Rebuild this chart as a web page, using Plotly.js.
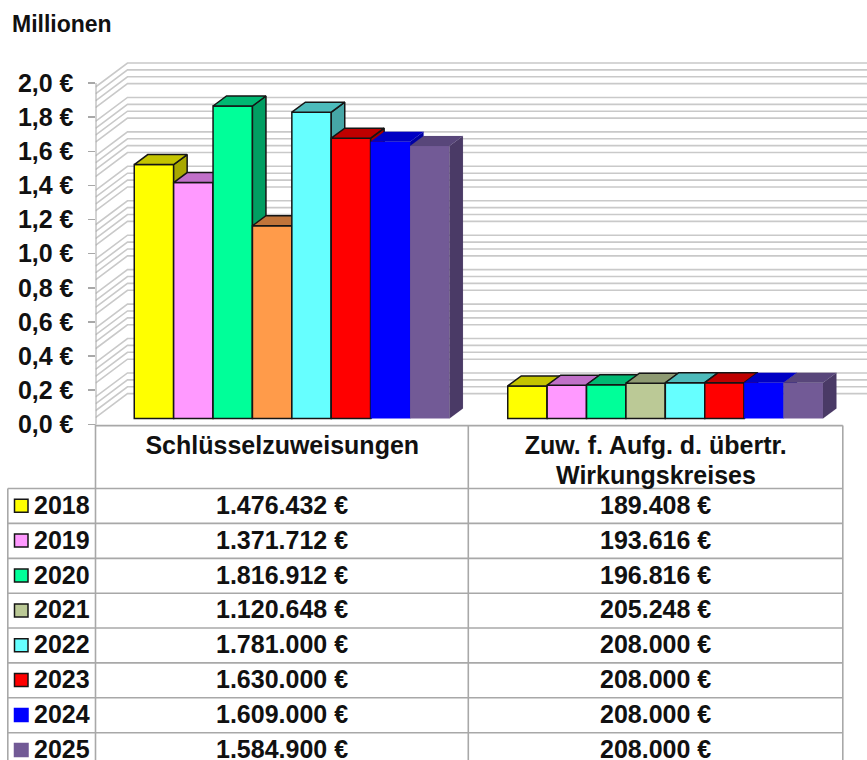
<!DOCTYPE html>
<html><head><meta charset="utf-8">
<script src="https://cdn.plot.ly/plotly-3.0.1.min.js"></script>
<style>html,body{margin:0;padding:0;background:#fff}</style></head>
<body><div id="chart" style="width:867px;height:760px"></div>
<script>
const categories = ['Schlüsselzuweisungen', 'Zuw. f. Aufg. d. übertr.'];
const categorySecondLine = ['', 'Wirkungskreises'];
const years = ['2018','2019','2020','2021','2022','2023','2024','2025'];
const schluessel = [1476432,1371712,1816912,1120648,1781000,1630000,1609000,1584900];
const zuweisung = [189408,193616,196816,205248,208000,208000,208000,208000];
const frontCol1 = ['#FFFF00','#FF99FF','#00FF99','#FF9B4A','#66FFFF','#FF0000','#0000FF','#725A96'];
const frontCol2 = ['#FFFF00','#FF99FF','#00FF99','#BBC996','#66FFFF','#FF0000','#0000FF','#725A96'];
const topCol1   = ['#C4C400','#C070C8','#00B872','#C0743A','#4DBBBB','#BF0000','#0000C4','#58467A'];
const topCol2   = ['#C4C400','#C070C8','#00B872','#8E9A72','#4DBBBB','#BF0000','#0000C4','#58467A'];
const sideCol1  = ['#A8A800','#A060A8','#009E62','#A86030','#46A6A6','#A00000','#0000A4','#4A3A66'];
const sideCol2  = ['#A8A800','#A060A8','#009E62','#7E8A64','#46A6A6','#A00000','#0000A4','#4A3A66'];
const hasOutline = [true,true,true,true,true,true,false,false];
const yTicks = [0,0.2,0.4,0.6,0.8,1.0,1.2,1.4,1.6,1.8,2.0];
const yTickText = ['0,0 €','0,2 €','0,4 €','0,6 €','0,8 €','1,0 €','1,2 €','1,4 €','1,6 €','1,8 €','2,0 €'];
const wallLines = [2,1.96,1.92,1.88, 1.8,1.76,1.72,1.68, 1.6,1.56,1.52,1.48, 1.4,1.36,1.32,1.28,
  1.2,1.16,1.12,1.08, 1,0.96,0.92,0.88, 0.8,0.76,0.72,0.68, 0.6,0.56,0.52,0.48, 0.4,0.36,0.32,0.28, 0.2,0.16,0.12,0.08];

const W = 867, H = 760;
const px = x => x / W, py = y => 1 - y / H;
const axL = 95.5, plotTop = 60, zeroY = 424.3;
const unitX = 373.5;                       // px per category
const xMin = -0.5, xMax = xMin + (W - axL) / unitX;
const yScale = (zeroY - 83) / 2;           // tick axis px per million
const barScale = 172, barBase = 418.5;     // front plane of the bars
const slot = 39.4 / unitX, shift = 9.6 / unitX;
const depthX = 13.5 / unitX, depthY = 10 / barScale;
const FONT = 'Liberation Sans, Arial, sans-serif';
const INK = '#111111', GRID = '#C9C9C9', RULE = '#A8A8A8';
const TXT = 25;

const traces = [];
// perspective back wall
const wallX = [], wallY = [];
const toMain = (backPx) => (zeroY - backPx) / yScale;
wallLines.forEach(v => {
  const back = 63 + (2 - v) * 172.2;
  wallX.push(xMin, xMin + 32 / unitX, xMax, null);
  wallY.push(toMain(back + 24), toMain(back), toMain(back), null);
});
traces.push({type:'scatter', mode:'lines', x:wallX, y:wallY, xaxis:'x', yaxis:'y',
  line:{color:GRID, width:1.6}, hoverinfo:'skip', showlegend:false, cliponaxis:true});
// axis stem, only as high as the top tick
traces.push({type:'scatter', mode:'lines', x:[xMin,xMin], y:[0,2], xaxis:'x', yaxis:'y',
  line:{color:RULE, width:2}, hoverinfo:'skip', showlegend:false, cliponaxis:false});

const layout = {
  width:W, height:H, margin:{l:0,r:0,t:0,b:0}, paper_bgcolor:'#fff', plot_bgcolor:'rgba(0,0,0,0)',
  showlegend:false, barmode:'overlay',
  font:{family:FONT, color:INK},
  title:{text:'Millionen', x:px(12), xanchor:'left', xref:'paper', y:py(24), yanchor:'middle',
    font:{family:FONT, size:23, weight:700, color:INK}},
  xaxis:{domain:[px(axL),1], range:[xMin,xMax], tickmode:'array', tickvals:[0,1], ticktext:categories,
    tickfont:{family:FONT, size:TXT, weight:700, color:INK}, ticks:'', showgrid:false, zeroline:false,
    showline:false, anchor:'y', ticklabelstandoff:4, fixedrange:true},
  yaxis:{domain:[py(zeroY),py(plotTop)], range:[0,(zeroY-plotTop)/yScale], tickmode:'array', tickvals:yTicks,
    ticktext:yTickText, tickfont:{family:FONT, size:TXT, weight:700, color:INK},
    ticks:'outside', ticklen:7, tickwidth:1.5, tickcolor:RULE, showgrid:false, zeroline:false, showline:false,
    anchor:'x', ticklabelstandoff:9, fixedrange:true},
  shapes:[], annotations:[]
};

years.forEach((yr, i) => {
  const ax = 'y' + (i + 2), axKey = 'yaxis' + (i + 2);
  layout[axKey] = {overlaying:'y', domain:layout.yaxis.domain, visible:false, fixedrange:true,
    range:[(barBase-zeroY)/barScale,(barBase-plotTop)/barScale]};
  const offs = (i - 3.5) * slot + shift;
  const vals = [schluessel[i]/1e6, zuweisung[i]/1e6];
  const lw = hasOutline[i] ? 1.5 : 0;
  const edge = '#151515';
  traces.push({type:'bar', name:yr, x:[0+offs,1+offs], y:vals, width:slot, xaxis:'x', yaxis:ax,
    marker:{color:[frontCol1[i],frontCol2[i]], line:{color:edge,width:lw}}, showlegend:false});
  [0,1].forEach(g => {
    const xl = g + offs - slot/2, xr = g + offs + slot/2, v = vals[g];
    traces.push({type:'scatter', mode:'lines', xaxis:'x', yaxis:ax, fill:'toself',
      x:[xr,xr+depthX,xr+depthX,xr,xr], y:[0,depthY,v+depthY,v,0],
      fillcolor:(g?sideCol2:sideCol1)[i], line:{color:hasOutline[i]?edge:(g?sideCol2:sideCol1)[i],width:lw||0.1},
      hoverinfo:'skip', showlegend:false});
    traces.push({type:'scatter', mode:'lines', xaxis:'x', yaxis:ax, fill:'toself',
      x:[xl,xl+depthX,xr+depthX,xr,xl], y:[v,v+depthY,v+depthY,v,v],
      fillcolor:(g?topCol2:topCol1)[i], line:{color:hasOutline[i]?edge:(g?topCol2:topCol1)[i],width:lw||0.1},
      hoverinfo:'skip', showlegend:false});
  });
});

// table rules
const rule = (x0,y0,x1,y1) => layout.shapes.push({type:'line', xref:'paper', yref:'paper', layer:'above',
  x0:px(x0), y0:py(y0), x1:px(x1), y1:py(y1), line:{color:RULE, width:1.6}});
rule(axL,425.6,842.8,425.6);
rule(axL,424.3,axL,760); rule(468.3,425.6,468.3,760); rule(842.8,425.6,842.8,760); rule(7.8,488.5,7.8,760);
const rowLines = [488.5,523.4,558.4,593.2,628,662.9,697.8,732.8];
const fmt = n => String(n).replace(/\B(?=(\d{3})+$)/g,'.') + ' €';
const txt = (text,x,xref,anchor,y) => layout.annotations.push({text, x, xref, xanchor:anchor,
  y:py(y), yref:'paper', yanchor:'middle', showarrow:false,
  font:{family:FONT, size:TXT, weight:700, color:INK}});
categorySecondLine.forEach((t,g) => { if (t) txt(t, g, 'x', 'center', 475); });
rowLines.forEach((y,i) => {
  rule(7.8,y,842.8,y);
  const c = y + 17.2;
  layout.shapes.push({type:'rect', xref:'paper', yref:'paper', layer:'above',
    x0:px(14.5), x1:px(28), y0:py(c-6.5), y1:py(c+6.5), fillcolor:frontCol2[i],
    line:{color:hasOutline[i]?'#151515':frontCol2[i], width:1.5}});
  txt(years[i], px(32), 'paper', 'left', c-1);
  txt(fmt(schluessel[i]), 0, 'x', 'center', c-1);
  txt(fmt(zuweisung[i]), 1, 'x', 'center', c-1);
});

Plotly.newPlot('chart', traces, layout, {displayModeBar:false, staticPlot:true});
</script></body></html>
